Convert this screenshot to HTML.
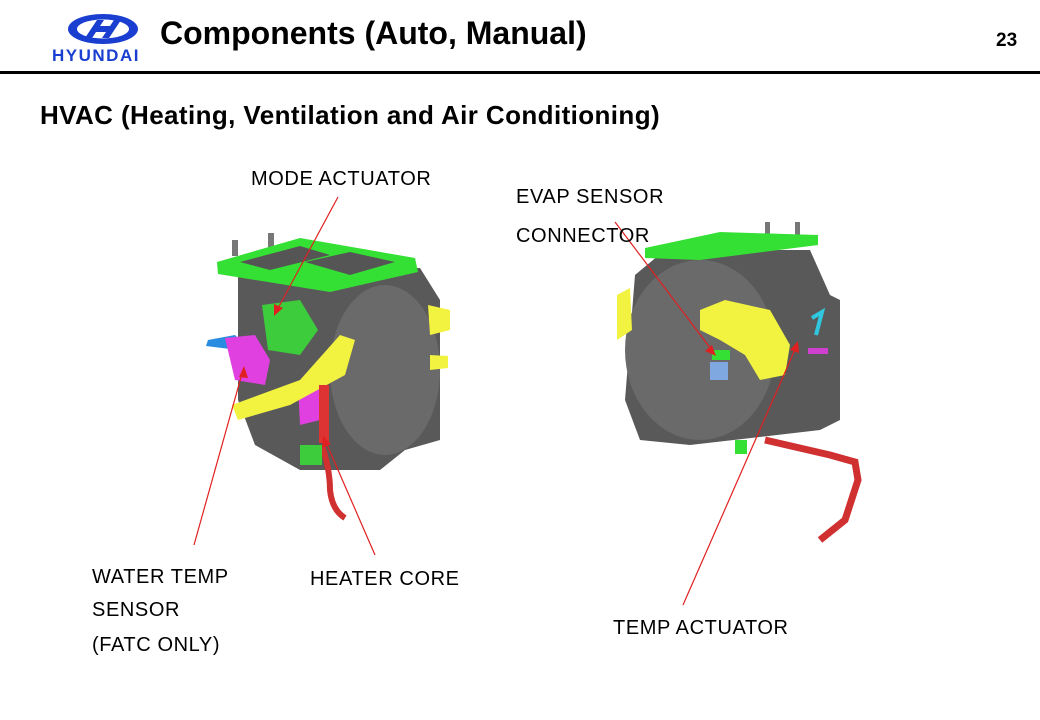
<!DOCTYPE html>
<html><head><meta charset="utf-8"><style>
body{margin:0;width:1040px;height:720px;background:#fff;position:relative;overflow:hidden;font-family:"Liberation Sans",Arial,sans-serif}
.t{position:absolute;white-space:nowrap;color:#000}
.lb{font-size:20px;letter-spacing:0.6px}
</style></head><body>
<svg width="1040" height="720" style="position:absolute;left:0;top:0">
<ellipse cx="103" cy="29" rx="35" ry="15" fill="#1a3fd0"/>
<ellipse cx="103" cy="29" rx="26" ry="9.5" fill="#fff"/>
<path d="M85 38 L97 20 L104 20 L100 26 L110 26 L114 20 L121 20 L109 38 L102 38 L106 32 L96 32 L92 38Z" fill="#1a3fd0"/>
<text x="52" y="61" font-family="Liberation Sans" font-weight="bold" font-size="17" fill="#1a3fd0" letter-spacing="1.5">HYUNDAI</text>
<rect x="0" y="71" width="1040" height="3" fill="#000"/>
<g>
<path d="M238 275 L420 268 L440 300 L440 440 L405 450 L380 470 L300 470 L255 445 L238 400 Z" fill="#595959"/>
<ellipse cx="385" cy="370" rx="55" ry="85" fill="#6a6a6a"/>
<rect x="232" y="240" width="6" height="16" fill="#777"/><rect x="268" y="233" width="6" height="18" fill="#777"/>
<path d="M217 262 L300 238 L415 258 L418 272 L330 292 L218 274Z" fill="#35e035"/>
<path d="M240 262 L300 246 L330 255 L270 270Z" fill="#555"/><path d="M305 262 L350 252 L395 262 L350 275Z" fill="#555"/>
<path d="M262 305 L300 300 L318 330 L300 355 L268 350 Z" fill="#3ccc3c"/>
<path d="M208 340 L235 335 L245 345 L238 350 L206 346Z" fill="#2a8ce0"/>
<path d="M225 338 L255 335 L270 360 L265 385 L235 380 Z" fill="#e040e0"/>
<path d="M298 385 L320 378 L320 420 L300 425Z" fill="#e040e0"/>
<path d="M232 405 L300 380 L340 335 L355 340 L345 375 L290 405 L238 420Z" fill="#f2f240"/>
<path d="M428 305 L450 310 L450 330 L430 335Z" fill="#f2f240"/><path d="M430 355 L448 356 L448 368 L430 370Z" fill="#f2f240"/>
<rect x="319" y="385" width="10" height="58" fill="#dd3333"/>
<path d="M322 445 Q330 470 330 490 Q332 510 345 518" stroke="#d03030" stroke-width="6" fill="none"/>
<rect x="300" y="445" width="22" height="20" fill="#3ccc3c"/>
</g>
<g>
<path d="M635 275 L665 250 L810 250 L830 295 L840 300 L840 420 L820 430 L690 445 L640 440 L625 400 Z" fill="#595959"/>
<ellipse cx="700" cy="350" rx="75" ry="90" fill="#6a6a6a"/>
<rect x="765" y="222" width="5" height="14" fill="#777"/><rect x="795" y="222" width="5" height="14" fill="#777"/>
<path d="M645 248 L720 232 L818 235 L818 245 L700 260 L645 258Z" fill="#35e035"/>
<path d="M617 295 L630 288 L632 330 L617 340Z" fill="#f2f240"/>
<path d="M700 310 L725 300 L770 310 L790 345 L785 375 L760 380 L745 355 L720 340 L700 330Z" fill="#f2f240"/>
<rect x="712" y="350" width="18" height="10" fill="#35e035"/>
<rect x="710" y="362" width="18" height="18" fill="#7fa8e0"/>
<path d="M812 318 L822 312 L816 335" stroke="#30c8e0" stroke-width="4" fill="none"/>
<rect x="808" y="348" width="20" height="6" fill="#d040d0"/>
<path d="M765 440 L830 455 L855 462 L858 480 L845 520 L820 540" stroke="#d03030" stroke-width="7" fill="none"/>
<rect x="735" y="440" width="12" height="14" fill="#35e035"/>
</g>
<g stroke="#e02020" stroke-width="1.2" fill="#e02020">
<line x1="338" y1="197" x2="276" y2="312"/><path d="M274 316 L274 304 L283 308Z" stroke="none"/>
<line x1="194" y1="545" x2="243" y2="370"/><path d="M244 366 L239 377 L248 378Z" stroke="none"/>
<line x1="375" y1="555" x2="325" y2="440"/><path d="M323 436 L322 448 L331 444Z" stroke="none"/>
<line x1="615" y1="222" x2="714" y2="353"/><path d="M716 356 L705 351 L712 345Z" stroke="none"/>
<line x1="683" y1="605" x2="797" y2="345"/><path d="M798 341 L790 350 L799 353Z" stroke="none"/>
</g>
</svg>
<div class="t" style="left:160px;top:15px;font-size:32px;font-weight:bold">Components (Auto, Manual)</div>
<div class="t" style="left:996px;top:30px;font-size:19px;font-weight:bold">23</div>
<div class="t" style="left:40px;top:100px;font-size:26px;font-weight:bold;letter-spacing:0.4px">HVAC (Heating, Ventilation and Air Conditioning)</div>
<div class="t lb" style="left:251px;top:168px">MODE ACTUATOR</div>
<div class="t lb" style="left:516px;top:186px">EVAP SENSOR</div>
<div class="t lb" style="left:516px;top:225px">CONNECTOR</div>
<div class="t lb" style="left:92px;top:566px">WATER TEMP</div>
<div class="t lb" style="left:92px;top:599px">SENSOR</div>
<div class="t lb" style="left:92px;top:634px">(FATC ONLY)</div>
<div class="t lb" style="left:310px;top:568px">HEATER CORE</div>
<div class="t lb" style="left:613px;top:617px">TEMP ACTUATOR</div>
</body></html>
